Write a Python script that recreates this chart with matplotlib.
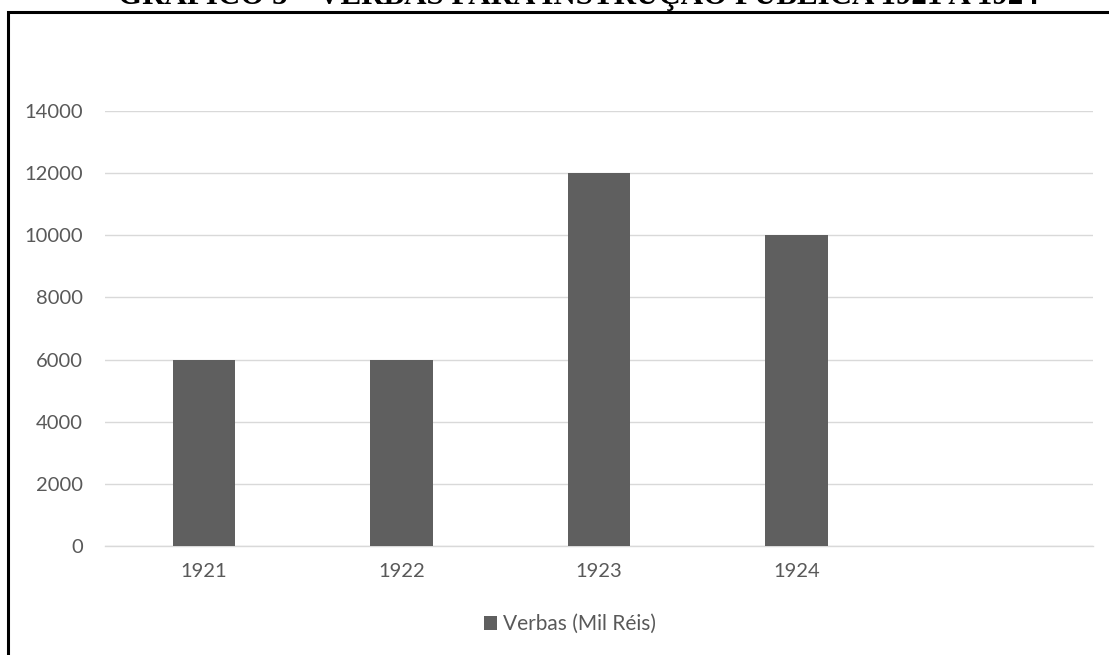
import matplotlib
matplotlib.use("Agg")
import matplotlib.pyplot as plt
from matplotlib.patches import Rectangle

categories = ["1921", "1922", "1923", "1924", ""]
values = [6000, 6000, 12000, 10000, 0]
yticks = [0, 2000, 4000, 6000, 8000, 10000, 12000, 14000]
series_name = "Verbas (Mil Réis)"
title = "GRÁFICO 5 – VERBAS PARA INSTRUÇÃO PÚBLICA 1921 A 1924"

W, H = 1109, 655
fig = plt.figure(figsize=(W / 100, H / 100), dpi=100)
fig.patch.set_facecolor("white")

# outer frame (left and top edges visible, rest cropped)
fig.patches.append(Rectangle((8 / W, -0.1), 1.2, (1 - 11.5 / H) + 0.1,
                             transform=fig.transFigure, fill=False,
                             edgecolor="black", linewidth=2.2, zorder=0))

fig.text(578 / W, 1 - 4 / H, title, ha="center", va="baseline",
         family="Liberation Serif", fontweight="bold", fontsize=22.3)

ax = fig.add_axes([105 / W, 1 - 546 / H, (1093 - 105) / W, (546 - 111) / H])
x = list(range(len(categories)))
ax.bar(x, values, width=0.315, color="#5f5f5f", label=series_name, zorder=3)
ax.set_xlim(-0.5, len(categories) - 0.5)
ax.set_ylim(0, 14000)
ax.set_yticks(yticks)
ax.set_yticklabels([str(v) for v in yticks])
ax.set_xticks(x)
ax.set_xticklabels(categories)
ax.grid(axis="y", color="#d9d9d9", linewidth=1, zorder=0)
for s in ["top", "right", "left"]:
    ax.spines[s].set_visible(False)
ax.spines["bottom"].set_color("#d9d9d9")
ax.spines["bottom"].set_linewidth(1)
ax.tick_params(axis="both", length=0, labelsize=14.5, labelcolor="#595959")
ax.tick_params(axis="y", pad=16)
ax.tick_params(axis="x", pad=12)
for lab in ax.get_xticklabels() + ax.get_yticklabels():
    lab.set_family("Lato")

leg = fig.legend(loc="center", bbox_to_anchor=(570 / W, 1 - 624 / H), frameon=False,
                 prop={"family": "Lato", "size": 15}, handlelength=0.65,
                 handleheight=0.65, handletextpad=0.3)
for t in leg.get_texts():
    t.set_color("#595959")

fig.savefig("out.png", dpi=100, facecolor="white")
